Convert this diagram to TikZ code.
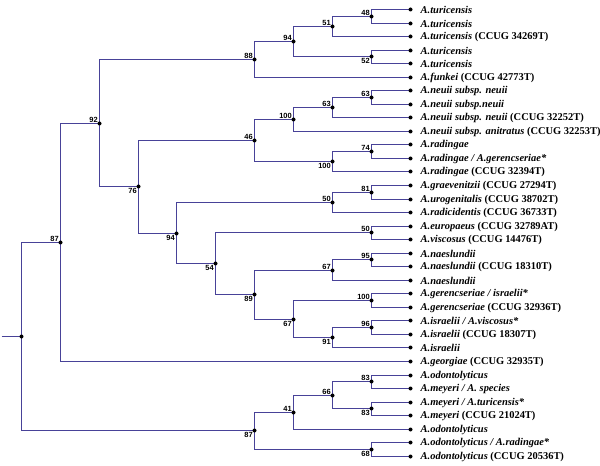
\documentclass[tikz,border=0pt]{standalone}
\usepackage{fontspec}
\setmainfont{Liberation Serif}
\newfontfamily\bsfont{Liberation Sans}
\definecolor{treeblue}{RGB}{72,66,152}
\newcommand\clade[3]{\draw[edge] (#2) -| (#1) |- (#3);}
\begin{document}
\begin{tikzpicture}[x=1bp,y=-1bp,
  edge/.style={draw=treeblue, line width=1.8bp},
  dot/.style={circle, fill=black, inner sep=0pt, minimum size=4bp},
  leaf/.style={anchor=west, inner sep=0pt, font=\fontsize{10.5}{12}\selectfont\bfseries},
  bsa/.style={anchor=south east, inner sep=0pt, font=\bsfont\bfseries\fontsize{7.5}{8}\selectfont, xshift=-1.5bp, yshift=1.2bp},
  bsb/.style={anchor=north east, inner sep=0pt, font=\bsfont\bfseries\fontsize{7.5}{8}\selectfont, xshift=-1.5bp, yshift=-1.2bp}]
\useasboundingbox (0,0) rectangle (600,466);
% leaves
\foreach \i [evaluate=\i as \yy using {floor(9.5+(\i-1)*13.54)+0.5}] in {1,...,34}{
  \coordinate (l\i) at (410.5,\yy);
}
% internal nodes
\coordinate (n48) at (371.5,16.5);
\coordinate (n51) at (332.5,26.5);
\coordinate (n52) at (371.5,56.5);
\coordinate (n94a) at (293.5,41.5);
\coordinate (n88) at (254.5,59.5);
\coordinate (n63b) at (371.5,97.5);
\coordinate (n63a) at (332.5,107.5);
\coordinate (n100a) at (293.5,119.5);
\coordinate (n74) at (371.5,151.5);
\coordinate (n100b) at (332.5,161.5);
\coordinate (n46) at (254.5,140.5);
\coordinate (n81) at (371.5,192.5);
\coordinate (n50a) at (332.5,202.5);
\coordinate (n50b) at (371.5,232.5);
\coordinate (n95) at (371.5,259.5);
\coordinate (n67a) at (332.5,270.5);
\coordinate (n100c) at (371.5,300.5);
\coordinate (n96) at (371.5,327.5);
\coordinate (n91) at (332.5,337.5);
\coordinate (n67b) at (293.5,319.5);
\coordinate (n89) at (254.5,294.5);
\coordinate (n54) at (215.5,263.5);
\coordinate (n94b) at (176.5,233.5);
\coordinate (n76) at (138.5,186.5);
\coordinate (n92) at (99.5,123.5);
\coordinate (n87a) at (60.5,242.5);
\coordinate (n83a) at (371.5,381.5);
\coordinate (n83b) at (371.5,408.5);
\coordinate (n66) at (332.5,395.5);
\coordinate (n41) at (293.5,412.5);
\coordinate (n68) at (371.5,449.5);
\coordinate (n87b) at (254.5,430.5);
\coordinate (root) at (21.5,336.5);
\coordinate (stub) at (1.5,336.5);
% edges
\clade{n48}{l1}{l2}
\clade{n51}{n48}{l3}
\clade{n52}{l4}{l5}
\clade{n94a}{n51}{n52}
\clade{n88}{n94a}{l6}
\clade{n63b}{l7}{l8}
\clade{n63a}{n63b}{l9}
\clade{n100a}{n63a}{l10}
\clade{n74}{l11}{l12}
\clade{n100b}{n74}{l13}
\clade{n46}{n100a}{n100b}
\clade{n81}{l14}{l15}
\clade{n50a}{n81}{l16}
\clade{n50b}{l17}{l18}
\clade{n95}{l19}{l20}
\clade{n67a}{n95}{l21}
\clade{n100c}{l22}{l23}
\clade{n96}{l24}{l25}
\clade{n91}{n96}{l26}
\clade{n67b}{n100c}{n91}
\clade{n89}{n67a}{n67b}
\clade{n54}{n50b}{n89}
\clade{n94b}{n50a}{n54}
\clade{n76}{n46}{n94b}
\clade{n92}{n88}{n76}
\clade{n87a}{n92}{l27}
\clade{n83a}{l28}{l29}
\clade{n83b}{l30}{l31}
\clade{n66}{n83a}{n83b}
\clade{n41}{n66}{l32}
\clade{n68}{l33}{l34}
\clade{n87b}{n41}{n68}
\clade{root}{n87a}{n87b}
\draw[edge] (stub) -- (root);
% dots
\foreach \n in {n48,n51,n52,n94a,n88,n63b,n63a,n100a,n74,n100b,n46,n81,n50a,n50b,n95,n67a,n100c,n96,n91,n67b,n89,n54,n94b,n76,n92,n87a,n83a,n83b,n66,n41,n68,n87b,root}
  \node[dot] (d\n) at (\n) {};
\foreach \i in {1,...,34}
  \node[dot] (dl\i) at (l\i) {};
% bootstrap values
\node[bsa] (b48) at (n48) {48};
\node[bsa] (b51) at (n51) {51};
\node[bsb] (b52) at (n52) {52};
\node[bsa] (b94a) at (n94a) {94};
\node[bsa] (b88) at (n88) {88};
\node[bsa] (b63b) at (n63b) {63};
\node[bsa] (b63a) at (n63a) {63};
\node[bsa] (b100a) at (n100a) {100};
\node[bsa] (b74) at (n74) {74};
\node[bsb] (b100b) at (n100b) {100};
\node[bsa] (b46) at (n46) {46};
\node[bsa] (b81) at (n81) {81};
\node[bsa] (b50a) at (n50a) {50};
\node[bsa] (b50b) at (n50b) {50};
\node[bsa] (b95) at (n95) {95};
\node[bsa] (b67a) at (n67a) {67};
\node[bsa] (b100c) at (n100c) {100};
\node[bsa] (b96) at (n96) {96};
\node[bsb] (b91) at (n91) {91};
\node[bsb] (b67b) at (n67b) {67};
\node[bsb] (b89) at (n89) {89};
\node[bsb] (b54) at (n54) {54};
\node[bsb] (b94b) at (n94b) {94};
\node[bsb] (b76) at (n76) {76};
\node[bsa] (b92) at (n92) {92};
\node[bsa] (b87a) at (n87a) {87};
\node[bsa] (b83a) at (n83a) {83};
\node[bsb] (b83b) at (n83b) {83};
\node[bsa] (b66) at (n66) {66};
\node[bsa] (b41) at (n41) {41};
\node[bsb] (b68) at (n68) {68};
\node[bsb] (b87b) at (n87b) {87};
% leaf labels
\node[leaf] (t1) at ([xshift=10bp]l1) {\textit{A.turicensis}};
\node[leaf] (t2) at ([xshift=10bp]l2) {\textit{A.turicensis}};
\node[leaf] (t3) at ([xshift=10bp]l3) {\textit{A.turicensis} (CCUG 34269T)};
\node[leaf] (t4) at ([xshift=10bp]l4) {\textit{A.turicensis}};
\node[leaf] (t5) at ([xshift=10bp]l5) {\textit{A.turicensis}};
\node[leaf] (t6) at ([xshift=10bp]l6) {\textit{A.funkei} (CCUG 42773T)};
\node[leaf] (t7) at ([xshift=10bp]l7) {\textit{A.neuii subsp. neuii}};
\node[leaf] (t8) at ([xshift=10bp]l8) {\textit{A.neuii subsp.neuii}};
\node[leaf] (t9) at ([xshift=10bp]l9) {\textit{A.neuii subsp. neuii} (CCUG 32252T)};
\node[leaf] (t10) at ([xshift=10bp]l10) {\textit{A.neuii subsp. anitratus} (CCUG 32253T)};
\node[leaf] (t11) at ([xshift=10bp]l11) {\textit{A.radingae}};
\node[leaf] (t12) at ([xshift=10bp]l12) {\textit{A.radingae / A.gerencseriae*}};
\node[leaf] (t13) at ([xshift=10bp]l13) {\textit{A.radingae} (CCUG 32394T)};
\node[leaf] (t14) at ([xshift=10bp]l14) {\textit{A.graevenitzii} (CCUG 27294T)};
\node[leaf] (t15) at ([xshift=10bp]l15) {\textit{A.urogenitalis} (CCUG 38702T)};
\node[leaf] (t16) at ([xshift=10bp]l16) {\textit{A.radicidentis} (CCUG 36733T)};
\node[leaf] (t17) at ([xshift=10bp]l17) {\textit{A.europaeus} (CCUG 32789AT)};
\node[leaf] (t18) at ([xshift=10bp]l18) {\textit{A.viscosus} (CCUG 14476T)};
\node[leaf] (t19) at ([xshift=10bp]l19) {\textit{A.naeslundii}};
\node[leaf] (t20) at ([xshift=10bp]l20) {\textit{A.naeslundii} (CCUG 18310T)};
\node[leaf] (t21) at ([xshift=10bp]l21) {\textit{A.naeslundii}};
\node[leaf] (t22) at ([xshift=10bp]l22) {\textit{A.gerencseriae / israelii*}};
\node[leaf] (t23) at ([xshift=10bp]l23) {\textit{A.gerencseriae} (CCUG 32936T)};
\node[leaf] (t24) at ([xshift=10bp]l24) {\textit{A.israelii / A.viscosus*}};
\node[leaf] (t25) at ([xshift=10bp]l25) {\textit{A.israelii} (CCUG 18307T)};
\node[leaf] (t26) at ([xshift=10bp]l26) {\textit{A.israelii}};
\node[leaf] (t27) at ([xshift=10bp]l27) {\textit{A.georgiae} (CCUG 32935T)};
\node[leaf] (t28) at ([xshift=10bp]l28) {\textit{A.odontolyticus}};
\node[leaf] (t29) at ([xshift=10bp]l29) {\textit{A.meyeri / A. species}};
\node[leaf] (t30) at ([xshift=10bp]l30) {\textit{A.meyeri / A.turicensis*}};
\node[leaf] (t31) at ([xshift=10bp]l31) {\textit{A.meyeri} (CCUG 21024T)};
\node[leaf] (t32) at ([xshift=10bp]l32) {\textit{A.odontolyticus}};
\node[leaf] (t33) at ([xshift=10bp]l33) {\textit{A.odontolyticus / A.radingae*}};
\node[leaf] (t34) at ([xshift=10bp]l34) {\textit{A.odontolyticus} (CCUG 20536T)};
\end{tikzpicture}
\end{document}
